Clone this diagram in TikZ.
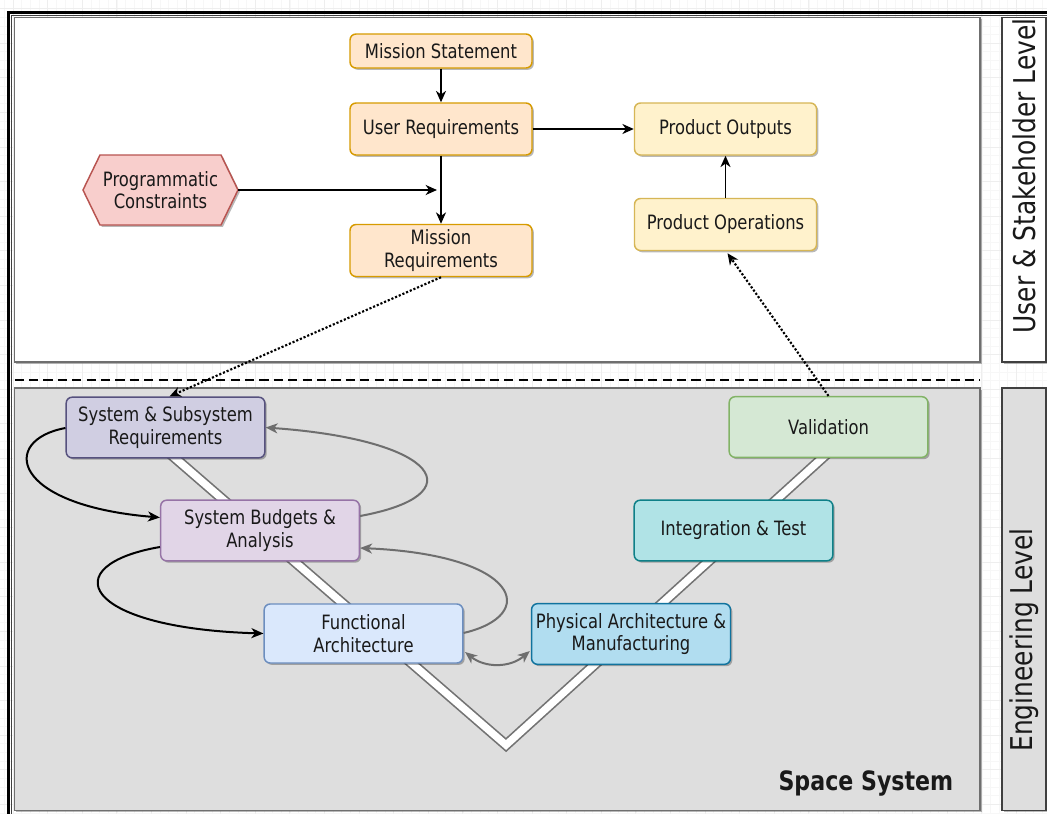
\documentclass[tikz,border=0pt]{standalone}
\usepackage{fontspec}
\setmainfont{DejaVu Sans}[FakeStretch=0.83]
\usetikzlibrary{arrows.meta,shadows,calc}

\definecolor{orfill}{HTML}{FFE6CC} \definecolor{ordraw}{HTML}{D79B00}
\definecolor{yefill}{HTML}{FFF2CC} \definecolor{yedraw}{HTML}{D6B656}
\definecolor{refill}{HTML}{F8CECC} \definecolor{redraw}{HTML}{B85450}
\definecolor{pufill}{HTML}{D0CEE2} \definecolor{pudraw}{HTML}{56517E}
\definecolor{lifill}{HTML}{E1D5E7} \definecolor{lidraw}{HTML}{9673A6}
\definecolor{blfill}{HTML}{DAE8FC} \definecolor{bldraw}{HTML}{6C8EBF}
\definecolor{skfill}{HTML}{B1DDF0} \definecolor{skdraw}{HTML}{10739E}
\definecolor{tefill}{HTML}{B0E3E6} \definecolor{tedraw}{HTML}{0E8088}
\definecolor{grfill}{HTML}{D5E8D4} \definecolor{grdraw}{HTML}{82B366}
\definecolor{panelgray}{HTML}{DEDEDE}
\definecolor{paneledge}{HTML}{6F6F6F}
\definecolor{loopgray}{HTML}{6E6E6E}
\definecolor{gridfine}{HTML}{F7F7F7}
\definecolor{gridmain}{HTML}{EEEEEE}

\newcommand{\boxfont}{\fontsize{14.8pt}{17pt}\selectfont}

\tikzset{
  softshadow/.style={drop shadow={shadow xshift=1.4pt, shadow yshift=-1.4pt, opacity=0.28, fill=black}},
  box/.style={rectangle, rounded corners=4.5pt, line width=1.1pt, align=center,
              font=\boxfont, text=black!90, softshadow},
  upper/.style={box, minimum width=136.5pt, minimum height=39pt},
  eng/.style={box, minimum width=149pt, minimum height=45.5pt},
  panel/.style={draw=paneledge, line width=0.9pt, softshadow},
  arr/.style={-{Stealth[length=8.5pt,width=7.5pt,inset=2.6pt]}, line width=1.4pt, black},
  dotarr/.style={-{Stealth[length=8.5pt,width=7.5pt,inset=2.6pt]}, line width=1.6pt, black,
                 dash pattern=on 1.6pt off 1.4pt},
  blackloop/.style={-{Stealth[length=9pt,width=7.5pt,inset=2.6pt]}, line width=1.5pt, black},
  grayloop/.style={-{Stealth[length=9pt,width=7.5pt,inset=2.6pt]}, line width=1.5pt, loopgray},
  sidelabel/.style={rotate=90, font=\fontsize{22.5pt}{26pt}\selectfont, text=black!90}
}

\begin{document}
\begin{tikzpicture}[x=0.75pt, y=-0.75pt]
\useasboundingbox (0,0) rectangle (1047,814);

% canvas grid
\fill[white] (0,0) rectangle (1047,814);
\foreach \i in {0,...,121} \draw[gridfine, line width=0.4pt] (4.35+\i*8.65,0) -- (4.35+\i*8.65,814);
\foreach \i in {0,...,94} \draw[gridfine, line width=0.4pt] (0,8.5+\i*8.65) -- (1047,8.5+\i*8.65);
\foreach \i in {0,...,30} \draw[gridmain, line width=0.5pt] (13+\i*34.6,0) -- (13+\i*34.6,814);
\foreach \i in {0,...,23} \draw[gridmain, line width=0.5pt] (0,8.5+\i*34.6) -- (1047,8.5+\i*34.6);

% outer frame
\draw[line width=1.6pt, black] (8.5,814) -- (8.5,12.5) -- (1047,12.5);
\draw[line width=0.6pt, black!75] (11.6,814) -- (11.6,15.6) -- (1047,15.6);

% level panels
\draw[panel, fill=white] (14.5,17.5) rectangle (980,362);
\draw[panel, fill=panelgray] (14.5,388) rectangle (980,810.5);
\draw[panel, draw=black!75, fill=white] (1002,17.5) rectangle (1046,362);
\draw[panel, draw=black!75, fill=panelgray] (1002,388) rectangle (1046,810.5);
\node[sidelabel] (lvlA) at (1024.5,176) {User \& Stakeholder Level};
\node[sidelabel] (lvlB) at (1024.5,640) {Engineering Level};

% boundary between the levels
\draw[line width=1.6pt, black, dash pattern=on 7pt off 3.8pt] (14.5,380) -- (980,380);

\node[font=\fontsize{20pt}{22pt}\selectfont\bfseries, text=black!90, anchor=east] (space) at (958,783) {Space System};

% V band
\draw[line width=8pt, black!55, line join=miter] (160,445) -- (506,745) -- (840,442);
\draw[line width=5.5pt, white, line join=miter] (160,445) -- (506,745) -- (840,442);

% stakeholder level nodes
\node[upper, minimum height=25.5pt, fill=orfill, draw=ordraw] (ms) at (441,51) {Mission Statement};
\node[upper, fill=orfill, draw=ordraw] (ur) at (441,129) {User Requirements};
\node[upper, fill=orfill, draw=ordraw] (mr) at (441,250.5) {Mission\\Requirements};
\node[upper, fill=yefill, draw=yedraw] (po) at (725.5,129) {Product Outputs};
\node[upper, fill=yefill, draw=yedraw] (pops) at (725.5,224.5) {Product Operations};

\path[fill=refill, draw=redraw, line width=1.1pt, softshadow]
  (83,190) -- (100,155) -- (221,155) -- (238,190) -- (221,225) -- (100,225) -- cycle;
\node[font=\boxfont, text=black!90, align=center, minimum width=116pt, minimum height=52.5pt] (pc) at (160.5,190) {Programmatic\\Constraints};

% engineering level nodes
\node[eng, fill=pufill, draw=pudraw] (ssr) at (165.5,427.5) {System \& Subsystem\\Requirements};
\node[eng, fill=lifill, draw=lidraw] (sba) at (260,530.5) {System Budgets \&\\Analysis};
\node[eng, minimum height=44.25pt, fill=blfill, draw=bldraw] (fa) at (363.5,633.5) {Functional\\Architecture};
\node[eng, fill=skfill, draw=skdraw] (pam) at (631,634) {Physical Architecture \&\\Manufacturing};
\node[eng, fill=tefill, draw=tedraw] (it) at (733.5,530.5) {Integration \& Test};
\node[eng, fill=grfill, draw=grdraw] (val) at (828.5,427) {Validation};

% stakeholder level connectors
\coordinate (merge) at (441,190);
\draw[arr] (ms) -- (ur);
\draw[arr] (ur) -- (mr);
\draw[arr, shorten >=3pt] (pc.east) -- (merge);
\draw[arr] (ur) -- (po);
\draw[arr] (pops) -- (po);

% links between the levels
\draw[dotarr] (mr.south) -- ($(ssr.north)+(4,0)$);
\draw[dotarr] (val.north) -- ($(pops.south)+(2,2)$);

% iteration loops on the left arm
\draw[blackloop] ($(ssr.west)+(0,0.5)$) .. controls (0,440) and (10,505) .. ($(sba.west)+(0,-13)$);
\draw[blackloop] ($(sba.west)+(0,16.5)$) .. controls (55,565) and (80,628) .. (fa.west);
\draw[grayloop] ($(sba.east)+(0,-14.5)$) .. controls (475,495) and (440,440) .. (ssr.east);
\draw[grayloop] ($(fa.east)+(0,-0.5)$) .. controls (540,615) and (520,555) .. ($(sba.east)+(0,17.5)$);
\draw[grayloop, {Stealth[length=9pt,width=7.5pt,inset=2.6pt]}-{Stealth[length=9pt,width=7.5pt,inset=2.6pt]}]
  ($(fa.east)+(1.5,18.5)$) .. controls (485,668) and (510,668) .. ($(pam.west)+(-1,17)$);

\end{tikzpicture}
\end{document}
